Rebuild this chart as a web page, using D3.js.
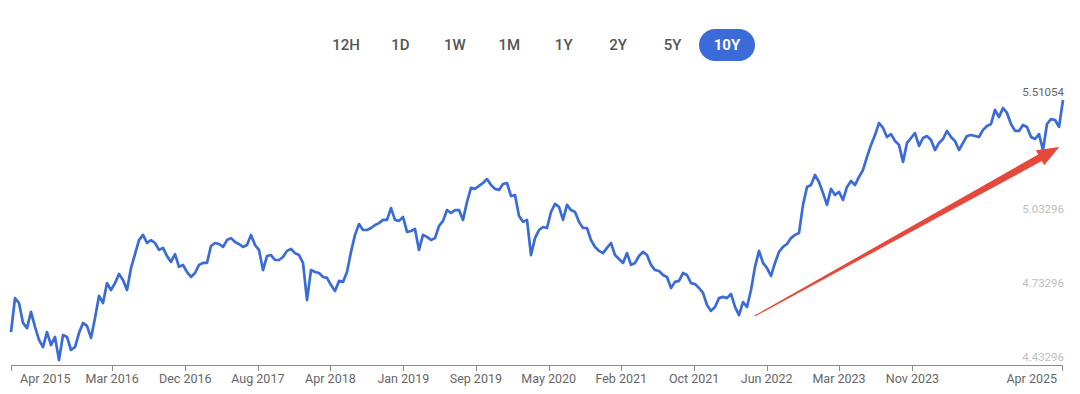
<!DOCTYPE html>
<html>
<head>
<meta charset="utf-8">
<script src="https://cdn.jsdelivr.net/npm/d3@7"></script>
<style>
	body { margin: 0; background: #fff; }
	svg { display: block; }
</style>
</head>
<body>
<div id="chart"></div>
<script>
// range buttons
var rangeLabels = ["12H", "1D", "1W", "1M", "1Y", "2Y", "5Y", "10Y"];
var activeRange = "10Y";

// series: one reading every 14 days starting 2015-04-01
var startDate = "2015-04-01";
var stepDays = 14;
var values = [
	4.567, 4.705, 4.685, 4.604, 4.583, 4.649, 4.588, 4.535, 4.506, 4.567,
	4.514, 4.547, 4.453, 4.555, 4.547, 4.494, 4.506, 4.563, 4.604, 4.592,
	4.543, 4.624, 4.714, 4.685, 4.766, 4.738, 4.766, 4.803, 4.779, 4.738,
	4.827, 4.884, 4.941, 4.962, 4.929, 4.941, 4.929, 4.901, 4.909, 4.876,
	4.852, 4.884, 4.832, 4.840, 4.811, 4.791, 4.807, 4.840, 4.848, 4.848,
	4.917, 4.929, 4.925, 4.913, 4.941, 4.949, 4.933, 4.925, 4.913, 4.921,
	4.962, 4.921, 4.901, 4.819, 4.876, 4.880, 4.860, 4.860, 4.872, 4.897,
	4.905, 4.888, 4.880, 4.848, 4.697, 4.819, 4.811, 4.807, 4.791, 4.787,
	4.758, 4.734, 4.775, 4.771, 4.811, 4.893, 4.962, 5.006, 4.982, 4.982,
	4.990, 5.002, 5.010, 5.023, 5.023, 5.071, 5.023, 5.019, 5.035, 4.974,
	4.978, 4.986, 4.901, 4.962, 4.954, 4.941, 4.949, 4.998, 5.019, 5.063,
	5.051, 5.063, 5.063, 5.023, 5.096, 5.153, 5.149, 5.161, 5.173, 5.189,
	5.165, 5.149, 5.145, 5.169, 5.173, 5.120, 5.124, 5.039, 5.015, 5.023,
	4.880, 4.949, 4.982, 4.994, 4.990, 5.055, 5.088, 5.076, 5.023, 5.084,
	5.063, 5.055, 5.015, 4.990, 4.990, 4.941, 4.913, 4.897, 4.888, 4.909,
	4.929, 4.880, 4.864, 4.848, 4.888, 4.840, 4.848, 4.876, 4.893, 4.880,
	4.840, 4.819, 4.815, 4.799, 4.791, 4.746, 4.771, 4.775, 4.807, 4.799,
	4.766, 4.762, 4.746, 4.726, 4.677, 4.653, 4.669, 4.705, 4.710, 4.705,
	4.722, 4.669, 4.636, 4.689, 4.669, 4.738, 4.832, 4.897, 4.848, 4.827,
	4.795, 4.848, 4.893, 4.913, 4.925, 4.949, 4.962, 4.970, 5.084, 5.157,
	5.165, 5.206, 5.177, 5.132, 5.084, 5.149, 5.124, 5.137, 5.104, 5.157,
	5.181, 5.165, 5.198, 5.226, 5.279, 5.328, 5.368, 5.417, 5.397, 5.360,
	5.372, 5.344, 5.328, 5.259, 5.336, 5.356, 5.376, 5.324, 5.356, 5.364,
	5.348, 5.307, 5.336, 5.352, 5.385, 5.360, 5.344, 5.307, 5.336, 5.364,
	5.368, 5.364, 5.360, 5.389, 5.405, 5.413, 5.470, 5.441, 5.478, 5.458,
	5.413, 5.385, 5.385, 5.409, 5.401, 5.360, 5.352, 5.372, 5.307, 5.413,
	5.433, 5.429, 5.401, 5.51054
];

// x axis ticks (first and last label sit at the axis ends)
var tickDates = ["2016-03-20", "2016-12-01", "2017-08-12", "2018-04-23", "2019-01-03", "2019-09-14",
	"2020-05-26", "2021-02-04", "2021-10-17", "2022-06-28", "2023-03-08", "2023-11-20"];
var tickLabels = ["Mar 2016", "Dec 2016", "Aug 2017", "Apr 2018", "Jan 2019", "Sep 2019",
	"May 2020", "Feb 2021", "Oct 2021", "Jun 2022", "Mar 2023", "Nov 2023"];
var firstLabel = "Apr 2015";
var lastLabel = "Apr 2025";

// y axis labels
var yTicks = [4.43296, 4.73296, 5.03296];
var yMax = 5.51054;

// trend arrow annotation
var arrowDates = ["2022-05-17", "2025-04-17"];
var arrowValues = [4.632, 5.319];

var W = 1080, H = 394;
var parse = d3.utcParse("%Y-%m-%d");
var t0 = parse(startDate);

var data = values.map(function(v, i) {
	return { date: d3.utcDay.offset(t0, i * stepDays), value: v };
});

var svg = d3.select("#chart")
	.append("svg")
	.attr("width", W)
	.attr("height", H);

var x = d3.scaleUtc()
	.domain(d3.extent(data, function(d) { return d.date; }))
	.range([11, 1063]);

var y = d3.scaleLinear()
	.domain([yTicks[0], yMax])
	.range([365, 100]);

// range selector
var btnX = d3.scalePoint().domain(rangeLabels).range([346, 727]);

var btn = svg.append("g").attr("class", "range-buttons");

btn.append("rect")
	.attr("x", btnX(activeRange) - 28)
	.attr("y", 29)
	.attr("width", 56)
	.attr("height", 32)
	.attr("rx", 16)
	.attr("fill", "#3a6bd9");

btn.selectAll("text")
	.data(rangeLabels)
  .enter().append("text")
	.attr("x", function(d) { return btnX(d); })
	.attr("y", 50)
	.attr("text-anchor", "middle")
	.attr("font-family", "Roboto, 'Noto Sans', sans-serif")
	.attr("font-size", "15px")
	.attr("font-weight", function(d) { return d == activeRange ? 700 : 500; })
	.attr("fill", function(d) { return d == activeRange ? "#fff" : "#555"; })
	.text(function(d) { return d; });

// bottom axis
var ax = svg.append("g").attr("class", "axis axis--x");

ax.append("line")
	.attr("x1", x.range()[0])
	.attr("x2", x.range()[1])
	.attr("y1", 365.5)
	.attr("y2", 365.5)
	.attr("stroke", "#8a8a8a")
	.attr("stroke-width", 1);

var tickPos = tickDates.map(function(d) { return Math.round(x(parse(d))) + 0.5; })
	.concat([x.range()[0] + 0.5, x.range()[1] - 0.5]);

ax.selectAll(".tick")
	.data(tickPos)
  .enter().append("line")
	.attr("class", "tick")
	.attr("x1", function(d) { return d; })
	.attr("x2", function(d) { return d; })
	.attr("y1", 365)
	.attr("y2", 371)
	.attr("stroke", "#8a8a8a");

ax.selectAll(".lbl")
	.data(tickDates)
  .enter().append("text")
	.attr("class", "lbl")
	.attr("x", function(d) { return x(parse(d)); })
	.attr("y", 383)
	.attr("text-anchor", "middle")
	.attr("font-family", "Roboto, 'Noto Sans', sans-serif")
	.attr("font-size", "12.5px")
	.attr("fill", "#666")
	.text(function(d, i) { return tickLabels[i]; });

ax.append("text")
	.attr("x", x.range()[0] + 9)
	.attr("y", 383)
	.attr("font-family", "Roboto, 'Noto Sans', sans-serif")
	.attr("font-size", "12.5px")
	.attr("fill", "#666")
	.text(firstLabel);

ax.append("text")
	.attr("x", x.range()[1] - 6)
	.attr("y", 383)
	.attr("text-anchor", "end")
	.attr("font-family", "Roboto, 'Noto Sans', sans-serif")
	.attr("font-size", "12.5px")
	.attr("fill", "#666")
	.text(lastLabel);

// right value labels
svg.append("g")
	.selectAll("text")
	.data(yTicks.concat([yMax]))
  .enter().append("text")
	.attr("x", 1064)
	.attr("y", function(d) { return y(d) - 4; })
	.attr("text-anchor", "end")
	.attr("font-family", "Roboto, 'Noto Sans', sans-serif")
	.attr("font-size", "11.5px")
	.attr("fill", function(d) { return d == yMax ? "#666" : "#bdbdbd"; })
	.text(function(d) { return d.toFixed(5); });

// price line
var line = d3.line()
	.x(function(d) { return x(d.date); })
	.y(function(d) { return y(d.value); });

svg.append("path")
	.datum(data)
	.attr("fill", "none")
	.attr("stroke", "#3a6bd6")
	.attr("stroke-width", 2.7)
	.attr("stroke-linejoin", "round")
	.attr("d", line);

// red trend arrow, tapered
var p0 = [x(parse(arrowDates[0])), y(arrowValues[0])];
var p1 = [x(parse(arrowDates[1])), y(arrowValues[1])];
var dx = p1[0] - p0[0], dy = p1[1] - p0[1];
var len = Math.sqrt(dx * dx + dy * dy);
var ux = dx / len, uy = dy / len;
var nx = -uy, ny = ux;
var headLen = 22, headW = 8.5, shaftW = 3.8;
var bx = p1[0] - ux * headLen, by = p1[1] - uy * headLen;

var arrowPts = [
	[p0[0] + nx * 0.5, p0[1] + ny * 0.5],
	[bx + nx * shaftW, by + ny * shaftW],
	[bx + nx * headW, by + ny * headW],
	p1,
	[bx - nx * headW, by - ny * headW],
	[bx - nx * shaftW, by - ny * shaftW],
	[p0[0] - nx * 0.5, p0[1] - ny * 0.5]
];

svg.append("path")
	.attr("d", d3.line()(arrowPts) + "Z")
	.attr("fill", "#e8473b");
</script>
</body>
</html>
